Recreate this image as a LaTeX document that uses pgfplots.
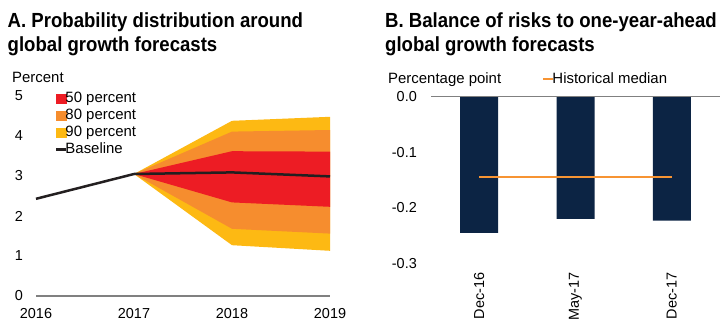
\documentclass[border=0pt]{standalone}
\usepackage{fontspec}
\setmainfont{Liberation Sans}
\newfontfamily\titlefont[FakeStretch=0.91]{Liberation Sans Bold}
\usepackage{pgfplots}
\pgfplotsset{compat=1.18}
\definecolor{c90}{RGB}{253,185,19}
\definecolor{c80}{RGB}{246,141,46}
\definecolor{c50}{RGB}{237,28,36}
\definecolor{cbase}{RGB}{35,31,32}
\definecolor{cnavy}{RGB}{12,36,68}
\definecolor{cmed}{RGB}{247,148,51}
\definecolor{axgray}{RGB}{128,128,128}
\newcommand{\lblfont}{\fontsize{15}{18}\selectfont}
\newcommand{\tckfont}{\fontsize{14.5}{17}\selectfont}
\newcommand{\ttlfont}{\titlefont\fontsize{20.5}{24}\selectfont}
\begin{document}
\begin{tikzpicture}[x=1bp,y=1bp]
\useasboundingbox (0,0) rectangle (720,320);
\node[anchor=base west, font=\ttlfont, inner sep=0] at (7.5,293) {A. Probability distribution around};
\node[anchor=base west, font=\ttlfont, inner sep=0] at (7.5,269) {global growth forecasts};
\node[anchor=base west, font=\ttlfont, inner sep=0] at (385,293) {B. Balance of risks to one-year-ahead};
\node[anchor=base west, font=\ttlfont, inner sep=0] at (385,269) {global growth forecasts};
\node[anchor=base west, font=\lblfont, inner sep=0] at (12,238) {Percent};
\node[anchor=base west, font=\lblfont, inner sep=0] at (388,237) {Percentage point};

\begin{axis}[at={(36bp,24bp)}, anchor=south west, scale only axis,
  width=294bp, height=200bp, xmin=2016, xmax=2019, ymin=0, ymax=5,
  axis line style={draw=none}, major tick length=0pt,
  xtick={2016,2017,2018,2019}, xticklabels={2016,2017,2018,2019},
  ytick={0,1,2,3,4,5}, yticklabels={0,1,2,3,4,5},
  tick label style={font=\tckfont, inner sep=0pt},
  x tick label style={anchor=north, yshift=-12bp},
  y tick label style={anchor=east, xshift=-13bp},
  clip=false,
  legend style={at={(0.068,1.025)}, anchor=north west, draw=none, fill=none,
    font=\lblfont, inner sep=0pt, row sep=2.4bp,
    nodes={inner sep=0.3bp, text height=11bp, text depth=3bp}},
  legend cell align=left]
\addlegendimage{legend image code/.code={\path[draw=none,fill=none] (0bp,-4.5bp) rectangle (9bp,4.5bp); \fill[c50, overlay] (0bp,-4.5bp) rectangle (10bp,4.5bp);}}
\addlegendentry{50 percent}
\addlegendimage{legend image code/.code={\path[draw=none,fill=none] (0bp,-4.5bp) rectangle (9bp,4.5bp); \fill[c80, overlay] (0bp,-4.5bp) rectangle (10bp,4.5bp);}}
\addlegendentry{80 percent}
\addlegendimage{legend image code/.code={\path[draw=none,fill=none] (0bp,-4.5bp) rectangle (9bp,4.5bp); \fill[c90, overlay] (0bp,-4.5bp) rectangle (10bp,4.5bp);}}
\addlegendentry{90 percent}
\addlegendimage{legend image code/.code={\path[draw=none,fill=none] (0bp,-4.5bp) rectangle (9bp,4.5bp); \draw[cbase, line width=2.5bp, overlay] (0bp,0bp) -- (10bp,0bp);}}
\addlegendentry{Baseline}
\addplot[fill=c90, draw=none, forget plot] coordinates {(2017,3.05) (2018,4.38) (2019,4.48) (2019,1.13) (2018,1.27) (2017,3.05)};
\addplot[fill=c80, draw=none, forget plot] coordinates {(2017,3.05) (2018,4.11) (2019,4.15) (2019,1.56) (2018,1.68) (2017,3.05)};
\addplot[fill=c50, draw=none, forget plot] coordinates {(2017,3.05) (2018,3.62) (2019,3.61) (2019,2.23) (2018,2.34) (2017,3.05)};
\addplot[cbase, line width=2.5bp, forget plot] coordinates {(2016,2.43) (2017,3.05) (2018,3.09) (2019,2.99)};
\draw[axgray, line width=1.2bp] (axis cs:2016,0) -- (axis cs:2019,0);
\end{axis}

\begin{axis}[at={(431bp,56.7bp)}, anchor=south west, scale only axis,
  width=289bp, height=166.6bp, xmin=-0.5, xmax=2.5, ymin=-0.3, ymax=0,
  axis line style={draw=none}, major tick length=0pt,
  xtick={0,1,2}, xticklabels={Dec-16,May-17,Dec-17},
  ytick={-0.3,-0.2,-0.1,0}, yticklabels={-0.3,-0.2,-0.1,0.0},
  tick label style={font=\tckfont, inner sep=0pt},
  x tick label style={yshift=-9bp, rotate=90, anchor=east},
  y tick label style={anchor=east, xshift=-14bp},
  clip=false,
  legend style={at={(0.3875,1.106)}, anchor=west, draw=none, fill=none,
    font=\lblfont, inner sep=0pt,
    nodes={inner sep=0.3bp, text height=11bp, text depth=3bp}},
  legend cell align=left]
\addplot[ybar, bar width=38bp, fill=cnavy, draw=none, forget plot] coordinates {(0,-0.245) (1,-0.22) (2,-0.223)};
\addplot[cmed, line width=2bp, legend image code/.code={\path[draw=none,fill=none] (0bp,-4bp) rectangle (9bp,4bp); \draw[cmed, line width=2bp, overlay] (0bp,0bp) -- (10bp,0bp);}] coordinates {(0,-0.145) (2,-0.145)};
\addlegendentry{Historical median}
\draw[axgray, line width=1.2bp] (axis cs:-0.5,0) -- (axis cs:2.5,0);
\end{axis}
\end{tikzpicture}
\end{document}
